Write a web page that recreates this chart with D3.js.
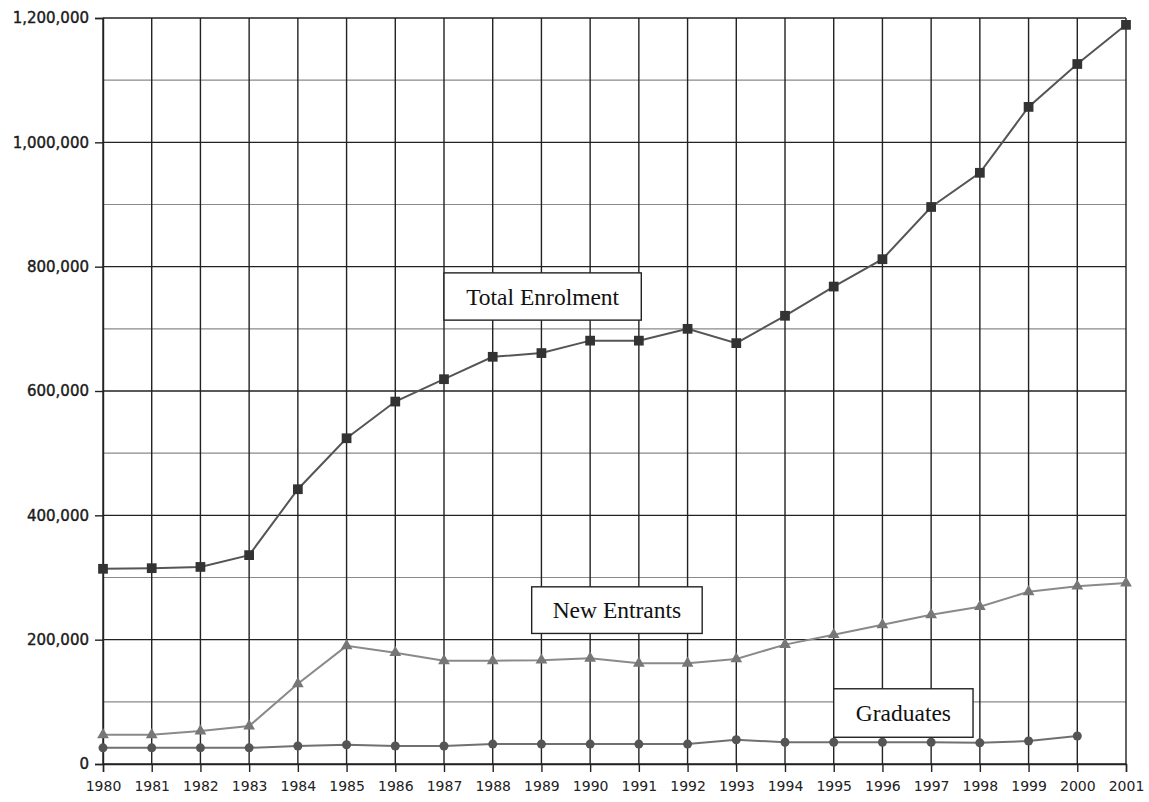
<!DOCTYPE html>
<html><head><meta charset="utf-8">
<script src="https://cdn.jsdelivr.net/npm/d3@7"></script>
<style>
html,body{margin:0;padding:0;background:#fff;}
svg{display:block;}
</style></head>
<body>
<svg id="chart" width="1149" height="802"></svg>
<script>
const years = [1980,1981,1982,1983,1984,1985,1986,1987,1988,1989,1990,1991,1992,1993,1994,1995,1996,1997,1998,1999,2000,2001];
const totalEnrolment = [314000,315000,317000,336000,442000,524000,583000,619000,655000,661000,681000,681000,700000,677000,721000,768000,812000,896000,951000,1057000,1126000,1189000];
const newEntrants = [47000,47000,53000,61000,129000,190000,179000,166000,166000,167000,170000,162000,162000,169000,192000,208000,224000,240000,253000,277000,286000,291000];
const graduates = [26000,26000,26000,26000,29000,31000,29000,29000,32000,32000,32000,32000,32000,39000,35000,35000,35000,35000,34000,37000,45000];
const yTicks = [0,200000,400000,600000,800000,1000000,1200000];
const yMinor = [100000,300000,500000,700000,900000,1100000];
const labels = [
  {text:"Total Enrolment", x0:1987.0, x1:1991.05, y0:714000, y1:790000},
  {text:"New Entrants", x0:1988.8, x1:1992.3, y0:210000, y1:285000},
  {text:"Graduates", x0:1995.0, x1:1997.86, y0:43000, y1:121000}
];

const svg = d3.select("#chart");
const x = d3.scaleLinear().domain([1980,2001]).range([103,1126]);
const y = d3.scaleLinear().domain([0,1200000]).range([764,18]);

// minor horizontal gridlines
svg.append("g").selectAll("line").data(yMinor).join("line")
  .attr("x1", x(1980)).attr("x2", x(2001))
  .attr("y1", d=>y(d)).attr("y2", d=>y(d))
  .attr("stroke","#8a8a8a").attr("stroke-width",1.2);
// major horizontal gridlines
svg.append("g").selectAll("line").data(yTicks).join("line")
  .attr("x1", x(1980)).attr("x2", x(2001))
  .attr("y1", d=>y(d)).attr("y2", d=>y(d))
  .attr("stroke","#222").attr("stroke-width",1.4);
// vertical gridlines
svg.append("g").selectAll("line").data(years).join("line")
  .attr("x1", d=>x(d)).attr("x2", d=>x(d))
  .attr("y1", y(1200000)).attr("y2", y(0))
  .attr("stroke","#222").attr("stroke-width",1.4);

// axes
const yAxis = d3.axisLeft(y).tickValues(yTicks).tickSize(8).tickPadding(6).tickFormat(d3.format(","));
const gy = svg.append("g").attr("transform",`translate(${x(1980)},0)`).call(yAxis);
gy.select(".domain").attr("stroke","#222").attr("stroke-width",1.4);
gy.selectAll(".tick line").attr("stroke","#222").attr("stroke-width",1.4);
gy.selectAll(".tick text").attr("font-family","'DejaVu Sans', sans-serif")
  .attr("font-size",15).attr("fill","#1a1a1a").attr("stroke","#1a1a1a").attr("stroke-width",0.4);

const xAxis = d3.axisBottom(x).tickValues(years).tickSize(8).tickPadding(9).tickFormat(d3.format("d"));
const gx = svg.append("g").attr("transform",`translate(0,${y(0)})`).call(xAxis);
gx.select(".domain").attr("stroke","#222").attr("stroke-width",1.4);
gx.selectAll(".tick line").attr("stroke","#222").attr("stroke-width",1.4);
gx.selectAll(".tick text").attr("font-family","'DejaVu Sans', sans-serif")
  .attr("font-size",14).attr("fill","#222");

const line = d3.line().x((d,i)=>x(years[i])).y(d=>y(d));

// Graduates
svg.append("path").datum(graduates).attr("d",line)
  .attr("fill","none").attr("stroke","#707070").attr("stroke-width",2);
svg.append("g").selectAll("circle").data(graduates).join("circle")
  .attr("cx",(d,i)=>x(years[i])).attr("cy",d=>y(d)).attr("r",4.5).attr("fill","#555");

// New Entrants
svg.append("path").datum(newEntrants).attr("d",line)
  .attr("fill","none").attr("stroke","#8a8a8a").attr("stroke-width",2);
const tri = d3.symbol().type(d3.symbolTriangle).size(60);
svg.append("g").selectAll("path").data(newEntrants).join("path")
  .attr("d",tri).attr("transform",(d,i)=>`translate(${x(years[i])},${y(d)})`).attr("fill","#777");

// Total Enrolment
svg.append("path").datum(totalEnrolment).attr("d",line)
  .attr("fill","none").attr("stroke","#555").attr("stroke-width",2);
const sq = d3.symbol().type(d3.symbolSquare).size(95);
svg.append("g").selectAll("path").data(totalEnrolment).join("path")
  .attr("d",sq).attr("transform",(d,i)=>`translate(${x(years[i])},${y(d)})`).attr("fill","#333");

// label boxes
const lg = svg.append("g").selectAll("g").data(labels).join("g");
lg.append("rect")
  .attr("x",d=>x(d.x0)).attr("y",d=>y(d.y1))
  .attr("width",d=>x(d.x1)-x(d.x0)).attr("height",d=>y(d.y0)-y(d.y1))
  .attr("fill","#fff").attr("stroke","#222").attr("stroke-width",1.4);
lg.append("text")
  .attr("x",d=>(x(d.x0)+x(d.x1))/2).attr("y",d=>(y(d.y0)+y(d.y1))/2)
  .attr("text-anchor","middle").attr("dominant-baseline","central")
  .attr("font-family","Liberation Serif, 'Times New Roman', serif").attr("font-size",23.5).attr("fill","#111")
  .text(d=>d.text);
</script>
</body></html>
